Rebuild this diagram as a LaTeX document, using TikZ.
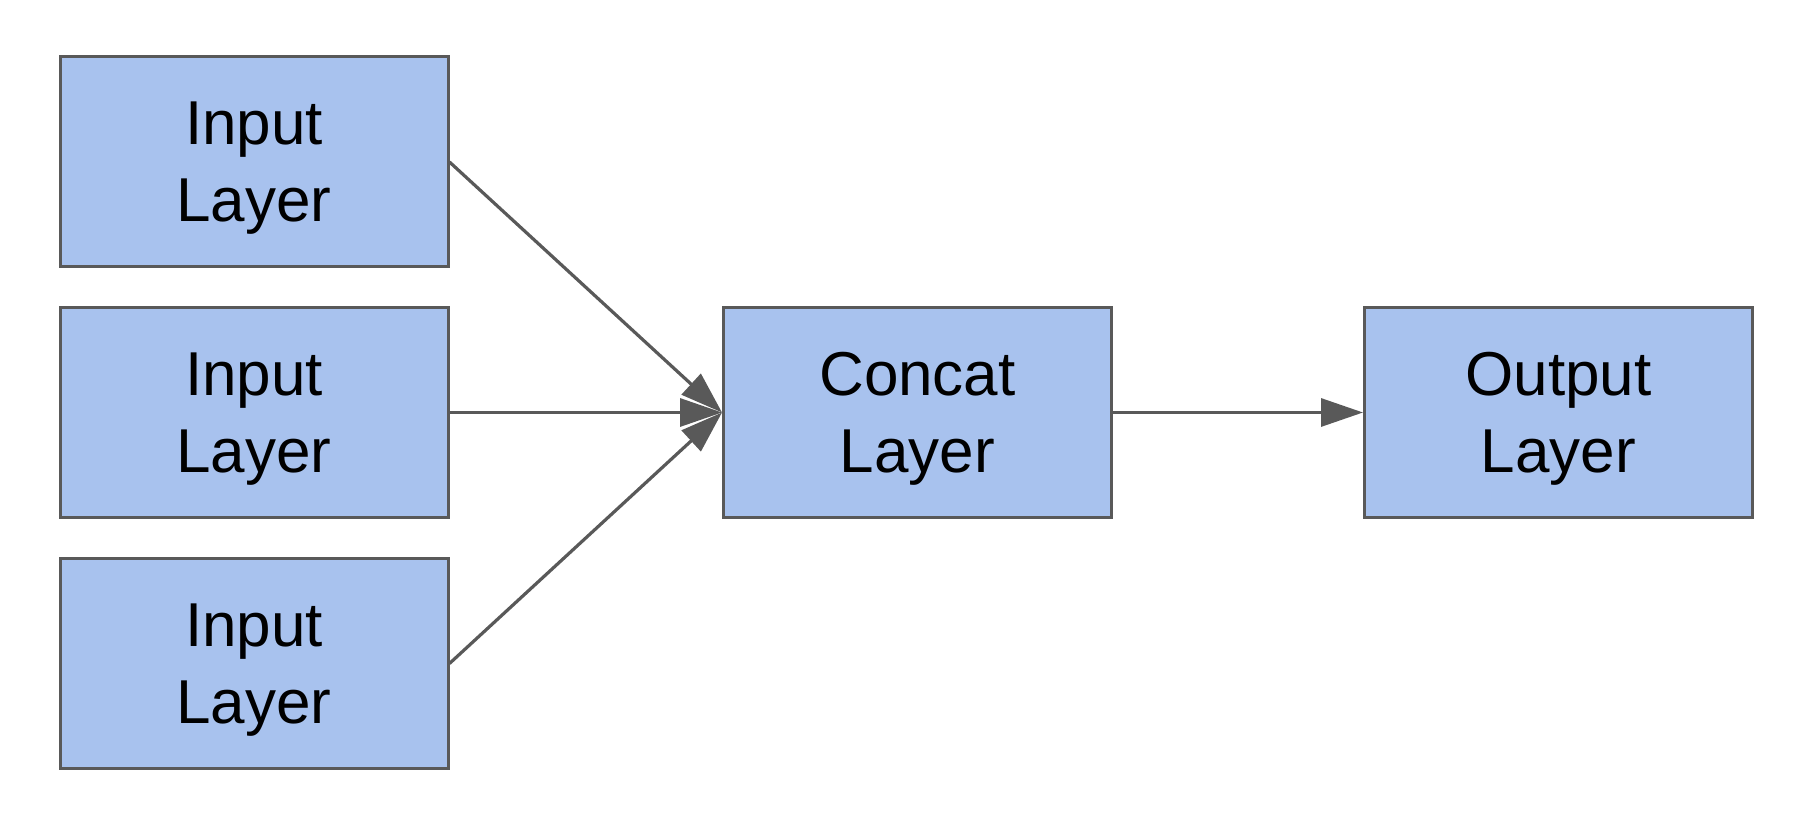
\documentclass[tikz,border=0pt]{standalone}
\usepackage{fontspec}
\setmainfont{Liberation Sans}
\usetikzlibrary{arrows.meta}
\definecolor{boxblue}{HTML}{A8C2EE}
\definecolor{edgegray}{HTML}{595959}
\tikzset{
        layer/.style={draw=edgegray, line width=1.5pt, fill=boxblue, minimum width=194pt, minimum height=105pt, inner sep=0pt, text depth=0pt, align=center, font=\fontsize{31}{38.5}\selectfont}, % the layer boxes
        link/.style={draw=edgegray, line width=1.6pt, -{Triangle[length=21pt,width=14pt]}}, % connectors
}
\begin{document}
\begin{tikzpicture}
\useasboundingbox (0,0) rectangle (907pt,-411pt);
\foreach \n/\y in {1/-81pt,2/-206.25pt,3/-331.75pt}
  \node[layer] (input\n) at (127pt,\y) {Input\\Layer};
\node[layer] (concat) at (458.75pt,-206.25pt) {Concat\\Layer};
\node[layer] (output) at (779.25pt,-206.25pt) {Output\\Layer};

\foreach \n in {1,2,3}
  \draw[link] (input\n.east) -- (concat.west);
\draw[link] (concat.east) -- (output.west);
\end{tikzpicture}
\end{document}
